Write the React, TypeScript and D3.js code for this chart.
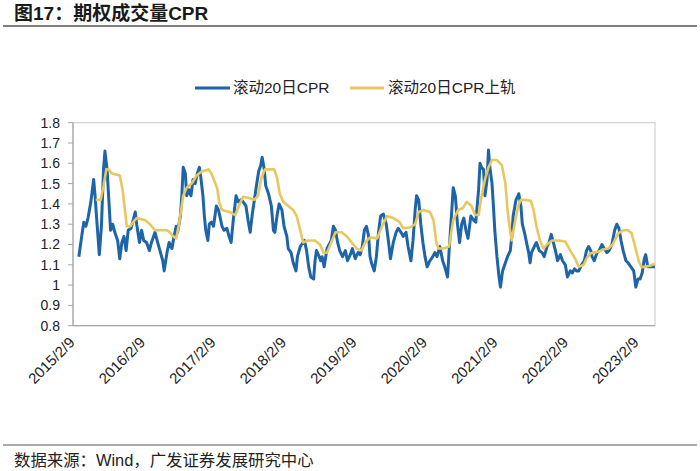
import React from 'react';
import * as d3 from 'd3';

const title = '图17：期权成交量CPR';
const source = '数据来源：Wind，广发证券发展研究中心';
const seriesNames = ['滚动20日CPR', '滚动20日CPR上轨'];
const yTicks = [0.8, 0.9, 1, 1.1, 1.2, 1.3, 1.4, 1.5, 1.6, 1.7, 1.8];
const yTickLabels = ['0.8', '0.9', '1', '1.1', '1.2', '1.3', '1.4', '1.5', '1.6', '1.7', '1.8'];
const xTickYears = [2015, 2016, 2017, 2018, 2019, 2020, 2021, 2022, 2023];
const xTickLabels = xTickYears.map((yr) => `${yr}/2/9`);

// [decimal year, value]
const cpr: [number, number][] = [
  [2015.19, 1.14], [2015.23, 1.24], [2015.26, 1.31], [2015.29, 1.29], [2015.32, 1.33], [2015.36, 1.41],
  [2015.40, 1.52], [2015.42, 1.44], [2015.44, 1.34], [2015.48, 1.15], [2015.51, 1.29], [2015.54, 1.57],
  [2015.56, 1.66], [2015.59, 1.57], [2015.62, 1.39], [2015.64, 1.27], [2015.67, 1.30], [2015.70, 1.26],
  [2015.74, 1.22], [2015.77, 1.13], [2015.80, 1.21], [2015.83, 1.24], [2015.86, 1.17], [2015.89, 1.27],
  [2015.93, 1.28], [2015.96, 1.32], [2015.99, 1.36], [2016.01, 1.30], [2016.05, 1.21], [2016.08, 1.27],
  [2016.11, 1.22], [2016.15, 1.21], [2016.19, 1.17], [2016.22, 1.21], [2016.27, 1.26], [2016.30, 1.22],
  [2016.34, 1.17], [2016.38, 1.12], [2016.40, 1.07], [2016.44, 1.16], [2016.47, 1.21], [2016.51, 1.18],
  [2016.54, 1.24], [2016.57, 1.29], [2016.59, 1.26], [2016.63, 1.34], [2016.65, 1.44], [2016.67, 1.58],
  [2016.70, 1.55], [2016.72, 1.44], [2016.75, 1.47], [2016.78, 1.44], [2016.81, 1.52], [2016.84, 1.50],
  [2016.87, 1.55], [2016.90, 1.58], [2016.92, 1.53], [2016.95, 1.44], [2016.97, 1.34], [2016.99, 1.27],
  [2017.02, 1.22], [2017.04, 1.30], [2017.07, 1.31], [2017.10, 1.29], [2017.14, 1.39], [2017.17, 1.37],
  [2017.19, 1.34], [2017.22, 1.29], [2017.25, 1.27], [2017.29, 1.28], [2017.32, 1.24], [2017.35, 1.21],
  [2017.38, 1.32], [2017.42, 1.44], [2017.45, 1.41], [2017.49, 1.42], [2017.52, 1.41], [2017.56, 1.39],
  [2017.59, 1.32], [2017.62, 1.26], [2017.65, 1.35], [2017.68, 1.42], [2017.70, 1.47], [2017.74, 1.56],
  [2017.77, 1.59], [2017.79, 1.63], [2017.82, 1.57], [2017.84, 1.49], [2017.88, 1.45], [2017.92, 1.39],
  [2017.95, 1.27], [2017.97, 1.26], [2018.00, 1.34], [2018.03, 1.40], [2018.07, 1.37], [2018.10, 1.29],
  [2018.14, 1.24], [2018.16, 1.18], [2018.20, 1.16], [2018.23, 1.11], [2018.27, 1.07], [2018.29, 1.14],
  [2018.33, 1.19], [2018.35, 1.20], [2018.39, 1.22], [2018.42, 1.17], [2018.45, 1.09], [2018.48, 1.04],
  [2018.52, 1.03], [2018.54, 1.12], [2018.56, 1.17], [2018.60, 1.14], [2018.62, 1.12], [2018.64, 1.14],
  [2018.67, 1.09], [2018.71, 1.18], [2018.74, 1.20], [2018.77, 1.22], [2018.80, 1.29], [2018.83, 1.27],
  [2018.86, 1.21], [2018.89, 1.17], [2018.93, 1.14], [2018.97, 1.17], [2019.00, 1.12], [2019.04, 1.15],
  [2019.07, 1.18], [2019.11, 1.13], [2019.15, 1.16], [2019.18, 1.15], [2019.21, 1.19], [2019.24, 1.27],
  [2019.27, 1.29], [2019.30, 1.24], [2019.32, 1.14], [2019.34, 1.11], [2019.38, 1.07], [2019.41, 1.14],
  [2019.44, 1.26], [2019.47, 1.34], [2019.51, 1.35], [2019.55, 1.30], [2019.58, 1.22], [2019.61, 1.13],
  [2019.65, 1.21], [2019.69, 1.26], [2019.72, 1.28], [2019.76, 1.26], [2019.79, 1.24], [2019.83, 1.26],
  [2019.86, 1.19], [2019.90, 1.12], [2019.93, 1.22], [2019.96, 1.37], [2019.98, 1.44], [2020.01, 1.42],
  [2020.04, 1.30], [2020.07, 1.21], [2020.10, 1.14], [2020.13, 1.09], [2020.17, 1.12], [2020.21, 1.14],
  [2020.24, 1.16], [2020.27, 1.14], [2020.31, 1.19], [2020.35, 1.12], [2020.38, 1.09], [2020.42, 1.04],
  [2020.44, 1.16], [2020.48, 1.37], [2020.50, 1.48], [2020.53, 1.44], [2020.56, 1.30], [2020.59, 1.21],
  [2020.62, 1.30], [2020.65, 1.33], [2020.68, 1.27], [2020.71, 1.23], [2020.75, 1.34], [2020.79, 1.32],
  [2020.82, 1.31], [2020.86, 1.47], [2020.88, 1.60], [2020.90, 1.58], [2020.93, 1.57], [2020.95, 1.44],
  [2020.98, 1.52], [2021.00, 1.665], [2021.02, 1.58], [2021.05, 1.50], [2021.07, 1.39], [2021.09, 1.27],
  [2021.12, 1.14], [2021.15, 1.04], [2021.17, 0.99], [2021.20, 1.07], [2021.24, 1.11], [2021.27, 1.14],
  [2021.31, 1.17], [2021.33, 1.24], [2021.35, 1.34], [2021.39, 1.42], [2021.42, 1.44], [2021.43, 1.45],
  [2021.46, 1.39], [2021.48, 1.30], [2021.51, 1.26], [2021.54, 1.21], [2021.57, 1.16], [2021.59, 1.11],
  [2021.61, 1.16], [2021.65, 1.19], [2021.68, 1.21], [2021.72, 1.17], [2021.76, 1.16], [2021.79, 1.14],
  [2021.83, 1.19], [2021.86, 1.21], [2021.89, 1.25], [2021.92, 1.21], [2021.95, 1.17], [2021.98, 1.12],
  [2022.02, 1.15], [2022.05, 1.12], [2022.09, 1.10], [2022.12, 1.04], [2022.16, 1.07], [2022.19, 1.06],
  [2022.22, 1.08], [2022.25, 1.07], [2022.28, 1.07], [2022.32, 1.10], [2022.36, 1.12], [2022.39, 1.17],
  [2022.42, 1.19], [2022.45, 1.17], [2022.47, 1.14], [2022.50, 1.12], [2022.54, 1.16], [2022.57, 1.17],
  [2022.61, 1.20], [2022.64, 1.18], [2022.68, 1.16], [2022.71, 1.17], [2022.75, 1.20], [2022.79, 1.27],
  [2022.82, 1.30], [2022.85, 1.28], [2022.88, 1.22], [2022.91, 1.17], [2022.95, 1.12], [2022.98, 1.11],
  [2023.02, 1.09], [2023.06, 1.07], [2023.09, 0.99], [2023.12, 1.03], [2023.15, 1.03], [2023.18, 1.06],
  [2023.21, 1.13], [2023.23, 1.15], [2023.26, 1.09], [2023.29, 1.09], [2023.34, 1.09], [2023.36, 1.09],
];

const cprUpper: [number, number][] = [
  [2015.43, 1.42], [2015.50, 1.42], [2015.54, 1.49], [2015.58, 1.57], [2015.61, 1.57], [2015.66, 1.55],
  [2015.77, 1.54], [2015.81, 1.47], [2015.85, 1.35], [2015.87, 1.29], [2015.92, 1.29], [2015.96, 1.31],
  [2016.01, 1.33], [2016.13, 1.32], [2016.20, 1.30], [2016.27, 1.27], [2016.34, 1.27], [2016.44, 1.27],
  [2016.48, 1.26], [2016.53, 1.24], [2016.57, 1.23], [2016.61, 1.30], [2016.67, 1.44], [2016.72, 1.48],
  [2016.79, 1.50], [2016.86, 1.54], [2016.93, 1.56], [2017.03, 1.57], [2017.07, 1.55], [2017.15, 1.48],
  [2017.18, 1.41], [2017.22, 1.37], [2017.33, 1.36], [2017.41, 1.345], [2017.46, 1.39], [2017.52, 1.435],
  [2017.59, 1.43], [2017.68, 1.42], [2017.73, 1.44], [2017.78, 1.53], [2017.83, 1.57], [2017.90, 1.57],
  [2017.96, 1.57], [2018.00, 1.53], [2018.04, 1.45], [2018.09, 1.41], [2018.16, 1.39], [2018.23, 1.37],
  [2018.28, 1.34], [2018.33, 1.27], [2018.37, 1.21], [2018.44, 1.22], [2018.54, 1.22], [2018.61, 1.20],
  [2018.66, 1.16], [2018.71, 1.16], [2018.78, 1.22], [2018.83, 1.26], [2018.92, 1.26], [2018.99, 1.24],
  [2019.06, 1.21], [2019.13, 1.18], [2019.20, 1.17], [2019.25, 1.21], [2019.32, 1.235], [2019.42, 1.23],
  [2019.49, 1.29], [2019.56, 1.34], [2019.65, 1.33], [2019.74, 1.31], [2019.79, 1.28], [2019.89, 1.285],
  [2019.96, 1.30], [2020.01, 1.36], [2020.08, 1.37], [2020.17, 1.36], [2020.22, 1.32], [2020.26, 1.21],
  [2020.29, 1.18], [2020.36, 1.18], [2020.44, 1.19], [2020.50, 1.32], [2020.57, 1.37], [2020.64, 1.38],
  [2020.69, 1.41], [2020.76, 1.39], [2020.81, 1.345], [2020.86, 1.345], [2020.90, 1.435], [2020.95, 1.52],
  [2021.00, 1.58], [2021.05, 1.616], [2021.12, 1.616], [2021.19, 1.59], [2021.24, 1.50], [2021.27, 1.37],
  [2021.31, 1.26], [2021.33, 1.22], [2021.37, 1.30], [2021.42, 1.39], [2021.46, 1.42], [2021.52, 1.42],
  [2021.60, 1.415], [2021.64, 1.37], [2021.68, 1.29], [2021.73, 1.22], [2021.78, 1.18], [2021.83, 1.20],
  [2021.90, 1.22], [2021.99, 1.22], [2022.09, 1.215], [2022.16, 1.17], [2022.23, 1.13], [2022.28, 1.09],
  [2022.35, 1.10], [2022.39, 1.13], [2022.44, 1.155], [2022.49, 1.16], [2022.56, 1.165], [2022.63, 1.175],
  [2022.70, 1.18], [2022.76, 1.20], [2022.84, 1.255], [2022.91, 1.27], [2022.98, 1.27], [2023.03, 1.255],
  [2023.08, 1.19], [2023.13, 1.12], [2023.17, 1.09], [2023.22, 1.09], [2023.29, 1.095], [2023.36, 1.105],
];

const FONT = '"Liberation Sans", Arial, "Noto Sans CJK SC", sans-serif';
const BLUE = '#1d64a8';
const YELLOW = '#e8c75f';

export default function App() {
  const W = 700;
  const H = 471;
  const left = 73;
  const right = 655;
  const top = 122.7;
  const bottom = 325.7;
  const febOffset = 39 / 365;

  const x = d3.scaleLinear().domain([2015 + febOffset, 2023.362]).range([left, right]);
  const y = d3.scaleLinear().domain([0.8, 1.8]).range([bottom, top]);
  const line = d3
    .line<[number, number]>()
    .x((d) => x(d[0]))
    .y((d) => y(d[1]));

  return (
    <svg
      width={W}
      height={H}
      style={{ position: 'absolute', left: 0, top: 0, background: '#fff' }}
      fontFamily={FONT}
    >
      <rect x={0} y={0} width={W} height={H} fill="#fff" />
      {/* title */}
      <text x={14} y={20} fontSize={19} fontWeight="bold" fill="#1a1a1a">
        {title}
      </text>
      <line x1={3} x2={697} y1={26} y2={26} stroke="#555" strokeWidth={1.6} />

      {/* legend */}
      <g>
        <line x1={195} x2={230} y1={88} y2={88} stroke={BLUE} strokeWidth={3} />
        <text x={233} y={93} fontSize={15.5} fill="#222">
          {seriesNames[0]}
        </text>
        <line x1={350} x2={384} y1={88} y2={88} stroke={YELLOW} strokeWidth={3} />
        <text x={388} y={93} fontSize={15.5} fill="#222">
          {seriesNames[1]}
        </text>
      </g>

      {/* plot frame */}
      <rect x={left} y={top} width={right - left} height={bottom - top} fill="none" stroke="#c8c8c8" strokeWidth={1} />
      <line x1={left} x2={left} y1={top} y2={bottom} stroke="#a6a6a6" strokeWidth={1.2} />
      <line x1={left} x2={right} y1={bottom} y2={bottom} stroke="#a6a6a6" strokeWidth={1.2} />

      {/* y axis */}
      {yTicks.map((t, i) => (
        <g key={t}>
          <line x1={left - 5} x2={left} y1={y(t)} y2={y(t)} stroke="#a6a6a6" strokeWidth={1} />
          <text x={60} y={y(t)} dy="0.35em" textAnchor="end" fontSize={14} fill="#222">
            {yTickLabels[i]}
          </text>
        </g>
      ))}

      {/* x axis labels */}
      {xTickYears.map((yr, i) => {
        const px = x(yr + febOffset);
        return (
          <text
            key={yr}
            transform={`translate(${px - 1},${bottom + 14}) rotate(-45)`}
            textAnchor="end"
            dy="0.35em"
            fontSize={15}
            fill="#222"
          >
            {xTickLabels[i]}
          </text>
        );
      })}

      {/* series */}
      <path d={line(cpr) || ''} fill="none" stroke={BLUE} strokeWidth={3} strokeLinejoin="round" />
      <path d={line(cprUpper) || ''} fill="none" stroke={YELLOW} strokeWidth={2.6} strokeLinejoin="round" />

      {/* footer */}
      <line x1={3} x2={697} y1={445} y2={445} stroke="#555" strokeWidth={1.2} />
      <text x={14} y={466} fontSize={16.4} fill="#222">
        {source}
      </text>
    </svg>
  );
}
